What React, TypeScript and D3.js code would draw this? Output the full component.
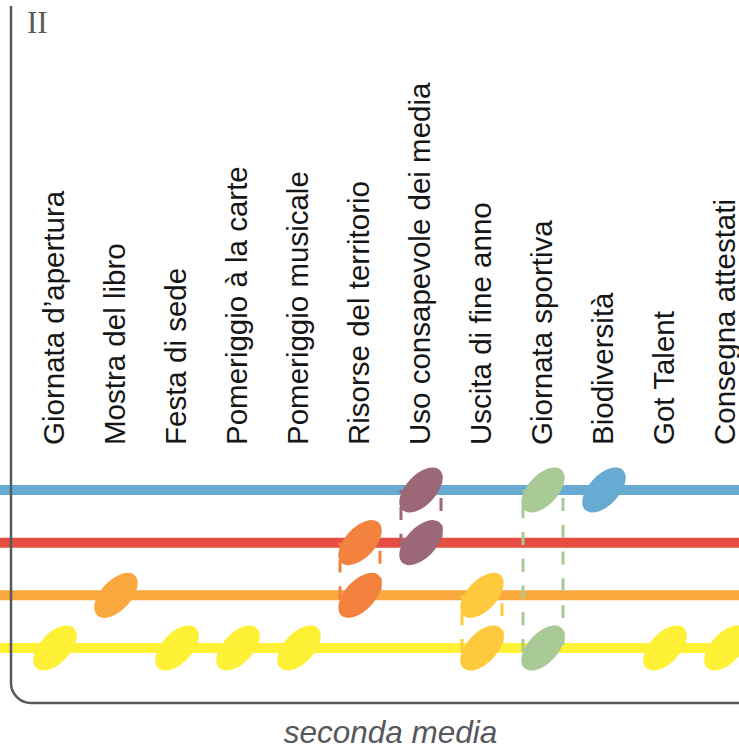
import React from "react";
import * as d3 from "d3";

const events = [
  "Giornata d’apertura",
  "Mostra del libro",
  "Festa di sede",
  "Pomeriggio à la carte",
  "Pomeriggio musicale",
  "Risorse del territorio",
  "Uso consapevole dei media",
  "Uscita di fine anno",
  "Giornata sportiva",
  "Biodiversità",
  "Got Talent",
  "Consegna attestati",
];

const lineNames = ["blu", "rosso", "arancione", "giallo"];
const lineColors = ["#68abd2", "#e64d43", "#f9a83e", "#fef035"];

// which lines each event sits on (indices into lineNames)
const eventLines = [[3], [2], [3], [3], [3], [1, 2], [0, 1], [2, 3], [0, 3], [0], [3], [3]];
const eventColors = [
  "#fef035",
  "#f9a83e",
  "#fef035",
  "#fef035",
  "#fef035",
  "#f4823f",
  "#9c6877",
  "#ffc93e",
  "#a9c996",
  "#68abd2",
  "#fef035",
  "#fef035",
];

const sectionLabel = "II";
const axisTitle = "seconda media";

const W = 739;
const H = 755;

export default function App() {
  const x = d3.scalePoint<string>().domain(events).range([55, 726]);
  const y = d3.scalePoint<string>().domain(lineNames).range([490, 648]);

  const rx = 27.5;
  const ry = 15;
  const dash = "13 13.75";

  return (
    <svg
      width={W}
      height={H}
      viewBox={`0 0 ${W} ${H}`}
      style={{ position: "absolute", left: 0, top: 0, background: "#fff" }}
    >
      {/* horizontal lines */}
      {lineNames.map((n, i) => (
        <line key={n} x1={0} x2={W} y1={y(n)} y2={y(n)} stroke={lineColors[i]} strokeWidth={10} />
      ))}

      {/* dashed connectors */}
      {events.map((e, i) => {
        const ls = eventLines[i];
        if (ls.length < 2) return null;
        const yTop = y(lineNames[ls[0]])!;
        const yBot = y(lineNames[ls[ls.length - 1]])!;
        const cx = x(e)!;
        return (
          <g key={"d" + e} stroke={eventColors[i]} strokeWidth={3} strokeDasharray={dash} fill="none">
            <line x1={cx + 20} x2={cx + 20} y1={yTop + 8} y2={yBot} />
            <line x1={cx - 20} x2={cx - 20} y1={yBot + 4} y2={yTop} />
          </g>
        );
      })}

      {/* event marks */}
      {events.map((e, i) =>
        eventLines[i].map((li) => (
          <ellipse
            key={e + li}
            cx={0}
            cy={0}
            rx={rx}
            ry={ry}
            fill={eventColors[i]}
            transform={`translate(${x(e)},${y(lineNames[li])}) rotate(-47)`}
          />
        ))
      )}

      {/* labels */}
      {events.map((e) => (
        <text
          key={"t" + e}
          transform={`translate(${x(e)! + 9},445) rotate(-90)`}
          fontFamily="'Liberation Sans', Arial, sans-serif"
          fontSize={29.5}
          fill="#161616"
        >
          {e}
        </text>
      ))}

      {/* frame */}
      <path
        d={`M11,6 V683 A20,20 0 0 0 31,703 H${W}`}
        fill="none"
        stroke="#55585d"
        strokeWidth={2.5}
      />

      <text x={27} y={33} fontFamily="'Liberation Serif', 'Times New Roman', serif" fontSize={31} fill="#5a5a5a">
        {sectionLabel}
      </text>

      <text
        x={390.5}
        y={743}
        textAnchor="middle"
        fontFamily="'Liberation Sans', Arial, sans-serif"
        fontStyle="italic"
        fontSize={31.5}
        fill="#55585d"
      >
        {axisTitle}
      </text>
    </svg>
  );
}
